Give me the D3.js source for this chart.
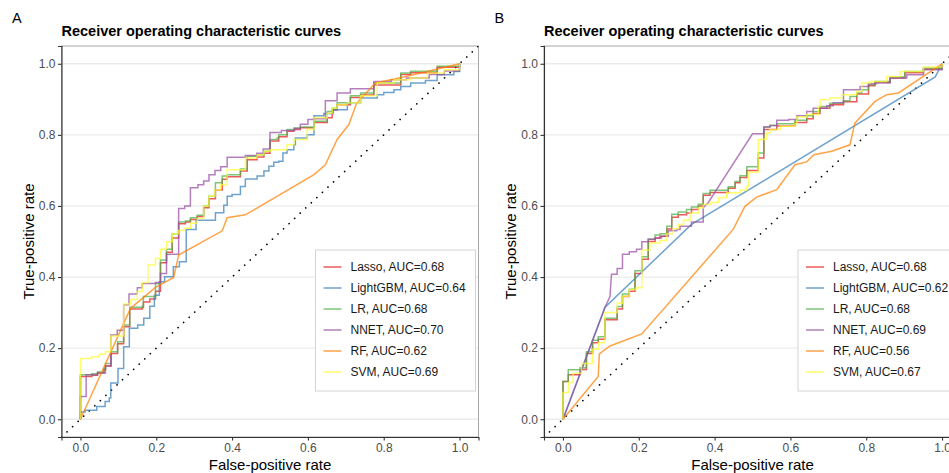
<!DOCTYPE html>
<html>
<head>
<meta charset="utf-8">
<script src="https://cdn.jsdelivr.net/npm/d3@7"></script>
<style>
  body { margin: 0; background: #fff; }
  svg { display: block; font-family: "Liberation Sans", Arial, sans-serif; }
</style>
</head>
<body>
<script>
// Data: [false-positive rate, true-positive rate]
const models = ["Lasso", "LightGBM", "LR", "NNET", "RF", "SVM"];
const aucA = ["0.68", "0.64", "0.68", "0.70", "0.62", "0.69"];
const aucB = ["0.68", "0.62", "0.68", "0.69", "0.56", "0.67"];
const axisTicks = [0, 0.2, 0.4, 0.6, 0.8, 1.0];

// Panel A
const lassoA = [[0,0],[0,0.12],[0.03,0.124],[0.045,0.13],[0.062,0.14],[0.066,0.15],[0.081,0.185],[0.098,0.212],[0.114,0.26],[0.13,0.31],[0.163,0.314],[0.166,0.33],[0.183,0.338],[0.198,0.36],[0.211,0.44],[0.227,0.47],[0.242,0.51],[0.259,0.55],[0.277,0.555],[0.29,0.562],[0.308,0.57],[0.325,0.595],[0.339,0.62],[0.356,0.645],[0.374,0.675],[0.387,0.682],[0.422,0.698],[0.44,0.73],[0.466,0.738],[0.484,0.748],[0.5,0.783],[0.523,0.795],[0.545,0.81],[0.563,0.815],[0.58,0.82],[0.616,0.835],[0.651,0.848],[0.664,0.87],[0.677,0.885],[0.712,0.905],[0.739,0.912],[0.774,0.94],[0.845,0.97],[0.871,0.975],[0.941,0.99],[1,1]];
const lightgbmA = [[0,0],[0,0.02],[0.012,0.025],[0.043,0.036],[0.065,0.05],[0.076,0.06],[0.08,0.102],[0.099,0.143],[0.114,0.204],[0.129,0.256],[0.151,0.265],[0.167,0.284],[0.183,0.318],[0.195,0.349],[0.208,0.387],[0.222,0.401],[0.245,0.429],[0.261,0.443],[0.279,0.534],[0.305,0.56],[0.356,0.581],[0.378,0.602],[0.387,0.627],[0.4,0.632],[0.422,0.655],[0.435,0.676],[0.466,0.684],[0.484,0.698],[0.497,0.712],[0.51,0.723],[0.523,0.726],[0.534,0.749],[0.545,0.758],[0.563,0.772],[0.567,0.791],[0.598,0.8],[0.616,0.854],[0.642,0.86],[0.667,0.871],[0.704,0.89],[0.739,0.904],[0.783,0.913],[0.8,0.919],[0.827,0.927],[0.845,0.936],[0.871,0.946],[0.91,0.953],[0.941,0.969],[0.985,0.978],[1,1]];
const lrA = [[0,0],[0,0.125],[0.03,0.128],[0.045,0.133],[0.062,0.143],[0.066,0.157],[0.081,0.19],[0.098,0.218],[0.114,0.265],[0.13,0.315],[0.163,0.318],[0.166,0.345],[0.198,0.382],[0.211,0.448],[0.227,0.478],[0.242,0.522],[0.259,0.555],[0.277,0.558],[0.29,0.567],[0.308,0.574],[0.325,0.6],[0.339,0.627],[0.356,0.665],[0.374,0.684],[0.387,0.688],[0.422,0.704],[0.44,0.74],[0.466,0.744],[0.484,0.754],[0.5,0.787],[0.519,0.791],[0.523,0.8],[0.545,0.815],[0.563,0.819],[0.58,0.822],[0.616,0.838],[0.651,0.866],[0.664,0.875],[0.677,0.89],[0.712,0.91],[0.739,0.918],[0.774,0.946],[0.845,0.974],[0.871,0.979],[0.941,0.993],[1,1]];
const nnetA = [[0,0],[0,0.064],[0.015,0.125],[0.045,0.13],[0.066,0.15],[0.08,0.237],[0.097,0.25],[0.114,0.322],[0.128,0.352],[0.15,0.37],[0.163,0.382],[0.198,0.385],[0.211,0.41],[0.227,0.464],[0.259,0.593],[0.275,0.6],[0.29,0.651],[0.31,0.66],[0.325,0.67],[0.339,0.688],[0.355,0.7],[0.37,0.71],[0.387,0.737],[0.435,0.742],[0.465,0.748],[0.482,0.76],[0.5,0.807],[0.53,0.812],[0.565,0.818],[0.58,0.83],[0.6,0.843],[0.616,0.845],[0.646,0.896],[0.677,0.918],[0.712,0.93],[0.774,0.95],[0.82,0.955],[0.86,0.96],[0.92,0.97],[0.96,0.98],[1,1]];
const rfA = [[0,0],[0.132,0.312],[0.198,0.371],[0.246,0.399],[0.259,0.462],[0.374,0.53],[0.387,0.567],[0.435,0.575],[0.616,0.688],[0.646,0.716],[0.677,0.787],[0.708,0.829],[0.728,0.888],[0.778,0.946],[0.85,0.962],[1,1]];
const svmA = [[0,0],[0,0.171],[0.03,0.176],[0.05,0.183],[0.066,0.19],[0.08,0.234],[0.114,0.324],[0.132,0.337],[0.15,0.359],[0.163,0.385],[0.178,0.434],[0.198,0.452],[0.211,0.478],[0.227,0.499],[0.242,0.522],[0.259,0.531],[0.273,0.537],[0.29,0.551],[0.308,0.565],[0.325,0.6],[0.339,0.627],[0.355,0.645],[0.37,0.66],[0.387,0.702],[0.435,0.735],[0.466,0.744],[0.484,0.754],[0.5,0.758],[0.545,0.772],[0.563,0.787],[0.598,0.815],[0.616,0.848],[0.651,0.861],[0.664,0.875],[0.677,0.885],[0.704,0.89],[0.739,0.91],[0.783,0.946],[0.827,0.955],[0.87,0.96],[0.915,0.974],[0.959,0.983],[1,1]];

// Panel B
const lassoB = [[0,0],[0,0.106],[0.014,0.125],[0.045,0.14],[0.062,0.185],[0.078,0.215],[0.093,0.225],[0.111,0.28],[0.143,0.31],[0.157,0.345],[0.175,0.36],[0.19,0.41],[0.208,0.45],[0.225,0.5],[0.243,0.51],[0.256,0.515],[0.274,0.535],[0.287,0.568],[0.304,0.575],[0.326,0.58],[0.339,0.59],[0.357,0.6],[0.37,0.63],[0.388,0.638],[0.436,0.65],[0.454,0.665],[0.467,0.68],[0.485,0.7],[0.515,0.735],[0.53,0.815],[0.564,0.825],[0.612,0.835],[0.643,0.845],[0.66,0.86],[0.678,0.875],[0.704,0.885],[0.74,0.893],[0.775,0.915],[0.806,0.938],[0.823,0.948],[0.863,0.96],[0.902,0.975],[0.951,0.985],[1,1]];
const lightgbmB = [[0,0],[0.111,0.315],[0.339,0.548],[0.982,0.963],[1,1]];
const lrB = [[0,0],[0,0.106],[0.014,0.139],[0.045,0.145],[0.062,0.19],[0.078,0.222],[0.093,0.232],[0.111,0.284],[0.143,0.317],[0.157,0.352],[0.175,0.366],[0.19,0.418],[0.208,0.457],[0.225,0.506],[0.243,0.518],[0.256,0.522],[0.274,0.543],[0.287,0.577],[0.304,0.583],[0.326,0.59],[0.339,0.597],[0.357,0.605],[0.37,0.635],[0.388,0.644],[0.436,0.654],[0.454,0.669],[0.467,0.685],[0.485,0.71],[0.515,0.749],[0.53,0.822],[0.546,0.826],[0.564,0.831],[0.612,0.841],[0.643,0.854],[0.66,0.866],[0.678,0.88],[0.704,0.889],[0.74,0.896],[0.757,0.908],[0.775,0.918],[0.788,0.927],[0.806,0.941],[0.823,0.95],[0.863,0.963],[0.902,0.978],[0.951,0.988],[1,1]];
const nnetB = [[0,0],[0.111,0.315],[0.124,0.345],[0.128,0.408],[0.143,0.408],[0.143,0.424],[0.157,0.424],[0.157,0.464],[0.175,0.464],[0.175,0.471],[0.194,0.471],[0.194,0.478],[0.208,0.478],[0.208,0.499],[0.225,0.499],[0.225,0.506],[0.243,0.506],[0.243,0.51],[0.26,0.51],[0.26,0.515],[0.278,0.515],[0.278,0.53],[0.3,0.53],[0.3,0.534],[0.309,0.534],[0.309,0.543],[0.339,0.543],[0.339,0.555],[0.37,0.555],[0.37,0.595],[0.383,0.609],[0.5,0.803],[0.53,0.803],[0.53,0.822],[0.546,0.822],[0.546,0.826],[0.564,0.826],[0.564,0.841],[0.595,0.841],[0.595,0.843],[0.617,0.843],[0.617,0.854],[0.643,0.854],[0.643,0.866],[0.66,0.866],[0.66,0.875],[0.696,0.875],[0.696,0.882],[0.713,0.882],[0.713,0.89],[0.74,0.89],[0.74,0.927],[0.784,0.927],[0.784,0.936],[0.806,0.936],[0.806,0.944],[0.828,0.944],[0.828,0.946],[0.863,0.946],[0.863,0.96],[0.907,0.96],[0.907,0.969],[0.951,0.969],[0.951,0.983],[1,0.983],[1,1]];
const rfB = [[0,0],[0.093,0.12],[0.096,0.184],[0.124,0.206],[0.208,0.24],[0.449,0.534],[0.48,0.599],[0.511,0.625],[0.564,0.646],[0.612,0.716],[0.643,0.724],[0.662,0.744],[0.709,0.754],[0.757,0.772],[0.77,0.833],[0.823,0.894],[0.854,0.913],[0.885,0.918],[1,1]];
const svmB = [[0,0],[0,0.075],[0.014,0.103],[0.027,0.129],[0.049,0.157],[0.078,0.197],[0.093,0.215],[0.111,0.3],[0.143,0.326],[0.157,0.346],[0.175,0.365],[0.193,0.37],[0.208,0.476],[0.229,0.496],[0.256,0.503],[0.274,0.522],[0.291,0.536],[0.304,0.548],[0.318,0.56],[0.335,0.58],[0.357,0.595],[0.37,0.604],[0.388,0.61],[0.41,0.623],[0.432,0.637],[0.467,0.644],[0.485,0.655],[0.489,0.695],[0.515,0.787],[0.53,0.788],[0.537,0.805],[0.546,0.815],[0.573,0.824],[0.612,0.831],[0.617,0.85],[0.643,0.857],[0.674,0.88],[0.678,0.899],[0.704,0.904],[0.735,0.913],[0.775,0.922],[0.788,0.946],[0.81,0.95],[0.854,0.964],[0.889,0.978],[0.951,0.991],[1,1]];

// Layout and style
const WIDTH = 949, HEIGHT = 473;
const PANEL_W = 417;
const PANEL_TOP = 46, PANEL_BOTTOM = 437;
const COLORS = ["#E41A1C", "#377EB8", "#4DAF4A", "#984EA3", "#FF7F00", "#FFFF33"];
const LINE_OPACITY = 0.72;
const LINE_WIDTH = 1.5;
const TITLE = "Receiver operating characteristic curves";

var svg = d3.select("body").append("svg")
  .attr("width", WIDTH)
  .attr("height", HEIGHT);

var drawPanel = function(tag, left, curves, aucs, linearCurves)
{
  const x = d3.scaleLinear().domain([-0.05, 1.05]).range([left, left + PANEL_W]);
  const y = d3.scaleLinear().domain([-0.05, 1.05]).range([PANEL_BOTTOM, PANEL_TOP]);

  var g = svg.append("g").attr("id", "panel" + tag);

  g.append("clipPath").attr("id", "clip" + tag)
    .append("rect")
    .attr("x", left).attr("y", PANEL_TOP)
    .attr("width", PANEL_W).attr("height", PANEL_BOTTOM - PANEL_TOP);

  // Horizontal grid
  g.append("g").selectAll("line").data(axisTicks).enter().append("line")
    .attr("x1", left).attr("x2", left + PANEL_W)
    .attr("y1", d => y(d)).attr("y2", d => y(d))
    .attr("stroke", "#ebebeb").attr("stroke-width", 1.3);

  // Panel border
  g.append("rect")
    .attr("x", left).attr("y", PANEL_TOP)
    .attr("width", PANEL_W).attr("height", PANEL_BOTTOM - PANEL_TOP)
    .attr("fill", "none").attr("stroke", "#a6a6a6").attr("stroke-width", 1);

  var plot = g.append("g").attr("clip-path", "url(#clip" + tag + ")");

  // Chance line
  plot.append("line")
    .attr("x1", x(-0.05)).attr("y1", y(-0.05))
    .attr("x2", x(1.05)).attr("y2", y(1.05))
    .attr("stroke", "#000").attr("stroke-width", 1.7)
    .attr("stroke-linecap", "round")
    .attr("stroke-dasharray", "0.01 7.6");

  // ROC curves
  for (let i = 0; i < curves.length; i++)
  {
    let line = d3.line()
      .x(d => x(d[0]))
      .y(d => y(d[1]))
      .curve(linearCurves.includes(models[i]) ? d3.curveLinear : d3.curveStepAfter);
    plot.append("path")
      .datum(curves[i])
      .attr("d", line)
      .attr("fill", "none")
      .attr("stroke", COLORS[i])
      .attr("stroke-opacity", LINE_OPACITY)
      .attr("stroke-width", LINE_WIDTH);
  }

  // Axes
  var yAxis = g.append("g")
    .attr("transform", "translate(" + left + ",0)")
    .call(d3.axisLeft(y).tickValues(axisTicks).tickFormat(d3.format(".1f"))
      .tickSizeOuter(0).tickSize(3.5).tickPadding(2.5));
  var xAxis = g.append("g")
    .attr("transform", "translate(0," + PANEL_BOTTOM + ")")
    .call(d3.axisBottom(x).tickValues(axisTicks).tickFormat(d3.format(".1f"))
      .tickSizeOuter(0).tickSize(3.5).tickPadding(2.5));
  [xAxis, yAxis].forEach(function(a) {
    a.select(".domain").attr("stroke", "#333").attr("stroke-width", 1.1);
    a.selectAll(".tick line").attr("stroke", "#333").attr("stroke-width", 1.1);
    a.selectAll(".tick text").attr("fill", "#4d4d4d")
      .style("font-size", "12px").style("font-family", "'Liberation Sans', Arial, sans-serif");
  });

  // Titles
  g.append("text").text(tag)
    .attr("x", left - 49.5).attr("y", 23)
    .style("font-size", "14.5px").attr("fill", "#000");
  g.append("text").text(TITLE)
    .attr("x", left).attr("y", 36)
    .style("font-size", "14.5px").style("font-weight", "bold").attr("fill", "#000");
  g.append("text").text("False-positive rate")
    .attr("x", x(0.5)).attr("y", 470)
    .attr("text-anchor", "middle")
    .style("font-size", "15px").attr("fill", "#000");
  g.append("text").text("True-positive rate")
    .attr("transform", "translate(" + (left - 28) + "," + ((PANEL_TOP + PANEL_BOTTOM) / 2) + ") rotate(-90)")
    .attr("text-anchor", "middle")
    .style("font-size", "15px").attr("fill", "#000");

  // Legend
  var lg = g.append("g").attr("transform", "translate(" + (left + 254) + ",250)");
  lg.append("rect")
    .attr("width", 160).attr("height", 141)
    .attr("fill", "#fff").attr("stroke", "#d4d4d4").attr("stroke-width", 1);
  for (let i = 0; i < models.length; i++)
  {
    let ly = 17 + i * 21;
    lg.append("line")
      .attr("x1", 8).attr("x2", 26).attr("y1", ly).attr("y2", ly)
      .attr("stroke", COLORS[i]).attr("stroke-opacity", LINE_OPACITY)
      .attr("stroke-width", LINE_WIDTH);
    lg.append("text").text(models[i] + ", AUC=" + aucs[i])
      .attr("x", 35).attr("y", ly)
      .attr("dominant-baseline", "central")
      .style("font-size", "12px").attr("fill", "#1a1a1a");
  }
}

drawPanel("A", 61.5, [lassoA, lightgbmA, lrA, nnetA, rfA, svmA], aucA, ["RF"]);
drawPanel("B", 544, [lassoB, lightgbmB, lrB, nnetB, rfB, svmB], aucB, ["LightGBM", "NNET", "RF"]);
</script>
</body>
</html>
